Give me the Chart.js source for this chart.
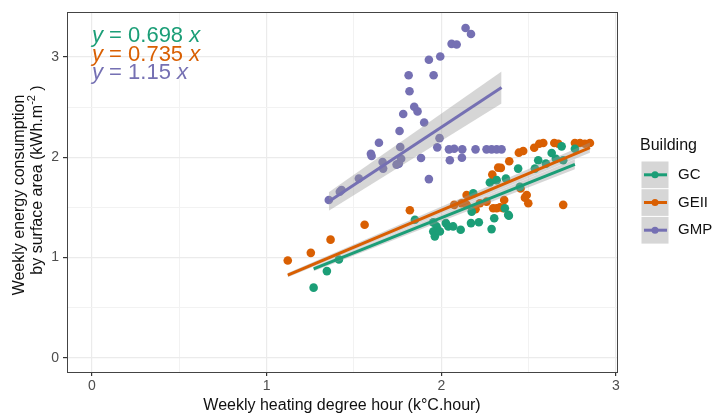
<!DOCTYPE html>
<html>
<head>
<meta charset="utf-8">
<script src="https://cdn.jsdelivr.net/npm/chart.js@4.4.1/dist/chart.umd.min.js"></script>
<style>
  html, body { margin: 0; padding: 0; background: #fff; }
  #wrap { width: 713px; height: 416px; }
</style>
</head>
<body>
<div id="wrap"><canvas id="chart"></canvas></div>
<script>
// data
const buildings = ['GC', 'GEII', 'GMP'];

const gcX = [1.269, 1.345, 1.414, 1.849, 1.954, 1.973, 1.954, 1.963, 1.982, 2.026, 2.040, 2.068,
             2.111, 2.170, 2.215, 2.183, 2.174, 2.288, 2.303, 2.383, 2.364, 2.278, 2.317, 2.370,
             2.440, 2.536, 2.555, 2.599, 2.632, 2.656, 2.689, 2.698, 2.765, 2.387, 1.992, 2.450];
const gcY = [0.699, 0.864, 0.980, 1.376, 1.350, 1.310, 1.260, 1.211, 1.267, 1.343, 1.310, 1.310,
             1.277, 1.343, 1.352, 1.640, 1.458, 1.283, 1.392, 1.426, 1.491, 1.749, 1.772, 1.788,
             1.887, 1.887, 1.970, 1.937, 2.043, 1.986, 2.109, 1.970, 2.085, 1.416, 1.260, 1.706];

const geiiX = [1.121, 1.253, 1.366, 1.561, 1.820, 2.074, 2.116, 2.145, 2.145, 2.196, 2.221, 2.259,
               2.297, 2.317, 2.336, 2.355, 2.360, 2.292, 2.326, 2.389, 2.444, 2.469, 2.532, 2.561,
               2.584, 2.647, 2.670, 2.765, 2.794, 2.822, 2.851, 2.454, 2.489, 2.479, 2.498, 2.698,
               2.341, 2.303];
const geiiY = [0.970, 1.046, 1.178, 1.327, 1.471, 1.525, 1.541, 1.624, 1.525, 1.481, 1.541, 1.557,
               1.491, 1.491, 1.501, 1.491, 1.574, 1.828, 1.897, 1.960, 2.046, 2.062, 2.095, 2.135,
               2.142, 2.142, 2.135, 2.142, 2.142, 2.135, 2.142, 1.689, 1.624, 1.597, 1.541, 1.525,
               1.894, 1.778];

const gmpX = [2.139, 2.170, 2.059, 2.088, 1.929, 1.994, 1.813, 1.956, 1.818, 1.845, 1.864, 1.782,
              1.902, 1.761, 1.643, 1.597, 1.601, 1.765, 1.990, 1.977, 2.044, 2.074, 2.120, 2.196,
              2.259, 2.288, 2.317, 2.345, 2.049, 2.118, 1.884, 1.770, 1.757, 1.744, 1.664, 1.667,
              1.929, 1.528, 1.429, 1.419, 1.356];
const gmpY = [3.290, 3.231, 3.132, 3.125, 2.973, 3.006, 2.818, 2.818, 2.659, 2.505, 2.458, 2.432,
              2.347, 2.263, 2.145, 2.036, 2.013, 2.102, 2.191, 2.099, 2.079, 2.085, 2.079, 2.079,
              2.079, 2.079, 2.079, 2.079, 1.970, 1.996, 1.993, 1.986, 1.937, 1.927, 1.953, 1.887,
              1.782, 1.788, 1.673, 1.656, 1.574];

// fitted slopes (lm through origin) and half-width of the 95% band per unit x
const slopes  = [0.698, 0.735, 1.15];
const ciSlope = [0.018, 0.018, 0.068];

const xTicks = [0, 1, 2, 3];
const yTicks = [0, 1, 2, 3];

const COLORS = ['#1B9E77', '#D95F02', '#7570B3'];
const RIBBON = 'rgba(153,153,153,0.4)';
const GRID   = '#EBEBEB';
const MINOR  = '#F2F2F2';
const FONT   = "'Liberation Sans', Arial, sans-serif";

const series = [[gcX, gcY], [geiiX, geiiY], [gmpX, gmpY]];

function halfSteps(ticks) {
  const out = [];
  for (let v = ticks[0]; v <= ticks[ticks.length - 1] + 1e-9; v += 0.5) out.push({ value: v });
  return out;
}
const isMajor = v => Math.abs(v - Math.round(v)) < 1e-9;

const datasets = [];
series.forEach(([xs, ys], i) => {
  datasets.push({
    type: 'scatter',
    data: xs.map((x, j) => ({ x, y: ys[j] })),
    backgroundColor: COLORS[i],
    borderWidth: 0,
    pointRadius: 4.3,
    order: 20,
  });
});
series.forEach(([xs], i) => {
  const lo = Math.min(...xs), hi = Math.max(...xs);
  const s = slopes[i], c = ciSlope[i];
  const base = 16 - i * 2;
  datasets.push({
    type: 'line',
    data: [{ x: lo, y: lo * (s - c) }, { x: hi, y: hi * (s - c) }],
    borderColor: 'transparent', borderWidth: 0, pointRadius: 0, fill: false, order: base,
  });
  datasets.push({
    type: 'line',
    data: [{ x: lo, y: lo * (s + c) }, { x: hi, y: hi * (s + c) }],
    borderColor: 'transparent', borderWidth: 0, pointRadius: 0,
    fill: '-1', backgroundColor: RIBBON, order: base,
  });
  datasets.push({
    type: 'line',
    data: [{ x: lo, y: lo * s }, { x: hi, y: hi * s }],
    borderColor: COLORS[i], borderWidth: 3, pointRadius: 0, fill: false, order: base - 1,
  });
});

function textRuns(ctx, runs, x, y, size) {
  let cx = x;
  runs.forEach(([t, italic]) => {
    ctx.font = `${italic ? 'italic ' : ''}${size}px ${FONT}`;
    ctx.fillText(t, cx, y);
    cx += ctx.measureText(t).width;
  });
}

const decor = {
  id: 'decor',
  afterDraw(chart) {
    const { ctx, chartArea: a, scales: { x } } = chart;
    ctx.save();

    // panel border
    ctx.strokeStyle = '#444444';
    ctx.lineWidth = 1;
    ctx.strokeRect(Math.round(a.left) + 0.5, Math.round(a.top) + 0.5,
                   Math.round(a.right - a.left), Math.round(a.bottom - a.top));

    // equations
    ctx.textBaseline = 'middle';
    ctx.textAlign = 'left';
    const ex = x.getPixelForValue(0);
    [36, 55, 73].forEach((py, i) => {
      ctx.fillStyle = COLORS[i];
      textRuns(ctx, [['y', true], [' = ' + slopes[i] + ' ', false], ['x', true]], ex, py, 22);
    });

    // axis titles
    ctx.fillStyle = '#111';
    ctx.font = `16px ${FONT}`;
    ctx.textAlign = 'center';
    ctx.fillText('Weekly heating degree hour (k°C.hour)', (a.left + a.right) / 2, 406);

    ctx.save();
    ctx.translate(20, 195);
    ctx.rotate(-Math.PI / 2);
    ctx.fillText('Weekly energy consumption', 0, 0);
    ctx.restore();

    ctx.save();
    ctx.translate(38, 180);
    ctx.rotate(-Math.PI / 2);
    ctx.textAlign = 'left';
    const l2a = 'by surface area (kWh.m', l2b = ' )';
    ctx.font = `16px ${FONT}`;
    const wa = ctx.measureText(l2a).width;
    ctx.font = `11px ${FONT}`;
    const ws = ctx.measureText('-2').width;
    ctx.font = `16px ${FONT}`;
    const wb = ctx.measureText(l2b).width;
    let sx = -(wa + ws + wb) / 2;
    ctx.fillText(l2a, sx, 0); sx += wa;
    ctx.font = `11px ${FONT}`;
    ctx.fillText('-2', sx, -6); sx += ws;
    ctx.font = `16px ${FONT}`;
    ctx.fillText(l2b, sx, 0);
    ctx.restore();

    // legend
    ctx.textAlign = 'left';
    ctx.fillStyle = '#111';
    ctx.font = `16px ${FONT}`;
    ctx.fillText('Building', 640, 146);
    buildings.forEach((b, i) => {
      const top = 161 + i * 27.7;
      ctx.fillStyle = '#FFFFFF';
      ctx.fillRect(641, top, 28, 27.7);
      ctx.fillStyle = RIBBON;
      ctx.fillRect(641.5, top + 0.5, 27, 26.7);
      const cy = top + 13.8;
      ctx.strokeStyle = COLORS[i];
      ctx.lineWidth = 3;
      ctx.beginPath(); ctx.moveTo(644, cy); ctx.lineTo(667, cy); ctx.stroke();
      ctx.fillStyle = COLORS[i];
      ctx.beginPath(); ctx.arc(655, cy, 3.5, 0, Math.PI * 2); ctx.fill();
      ctx.fillStyle = '#111';
      ctx.font = `15px ${FONT}`;
      ctx.fillText(b, 678, cy);
    });

    ctx.restore();
  },
};

function axis(min, max, ticks, pos) {
  return {
    type: 'linear',
    position: pos,
    min, max,
    afterBuildTicks: s => { s.ticks = halfSteps(ticks); },
    afterFit: s => { if (pos === 'left') s.width = 67; else s.height = 44; },
    grid: {
      color: c => isMajor(c.tick.value) ? GRID : MINOR,
      lineWidth: c => isMajor(c.tick.value) ? 1.2 : 1,
      tickColor: c => isMajor(c.tick.value) ? '#333333' : 'rgba(0,0,0,0)',
      tickLength: 4,
      drawTicks: true,
    },
    border: { display: false },
    ticks: {
      autoSkip: false,
      maxRotation: 0,
      padding: pos === 'left' ? 4 : 2,
      color: '#4D4D4D',
      font: { family: FONT, size: 14 },
      callback: v => isMajor(v) ? String(Math.round(v)) : '',
    },
  };
}

new Chart(document.getElementById('chart'), {
  data: { datasets },
  options: {
    responsive: true,
    maintainAspectRatio: false,
    animation: false,
    events: [],
    layout: { padding: { left: 0, right: 96, top: 9, bottom: 0 } },
    plugins: { legend: { display: false }, tooltip: { enabled: false } },
    scales: {
      x: axis(-0.143, 3.006, xTicks, 'bottom'),
      y: axis(-0.143, 3.446, yTicks, 'left'),
    },
  },
  plugins: [decor],
});
</script>
</body>
</html>
